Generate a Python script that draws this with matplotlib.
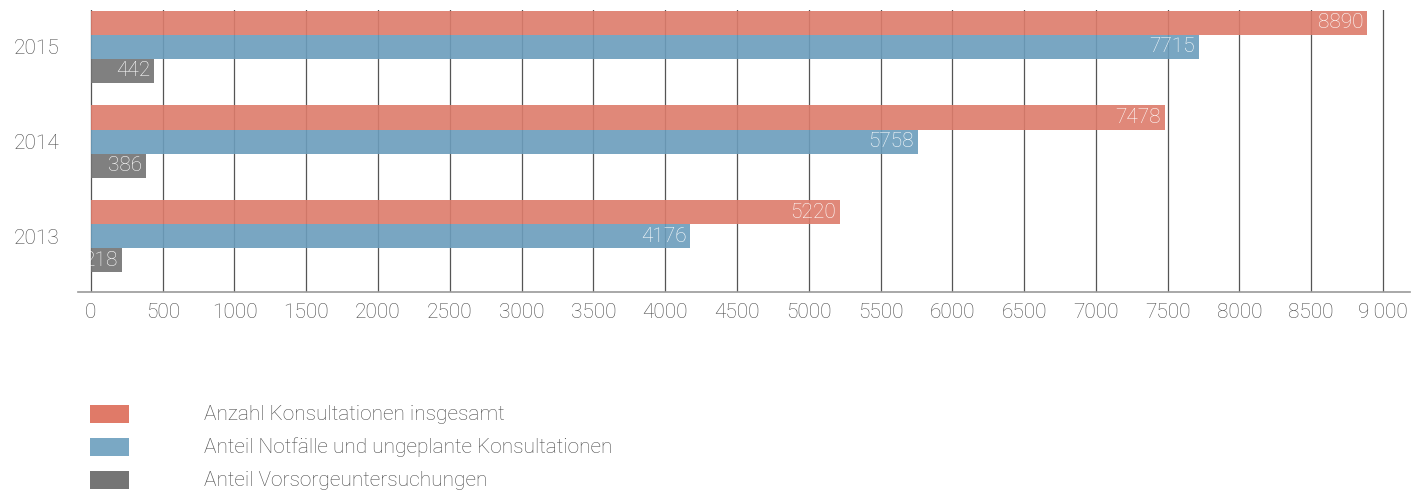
import matplotlib
matplotlib.use("Agg")
import matplotlib.pyplot as plt
from matplotlib.patches import Rectangle
import numpy as np

years = ["2013", "2014", "2015"]
total = [5220, 7478, 8890]
emergency = [4176, 5758, 7715]
preventive = [218, 386, 442]
series_labels = ["Anzahl Konsultationen insgesamt",
                 "Anteil Notfälle und ungeplante Konsultationen",
                 "Anteil Vorsorgeuntersuchungen"]
xticks = list(range(0, 9001, 500))
xticklabels = [str(v) for v in xticks[:-1]] + ["9\u2009000"]

bar_colors = ["#DD7B6B", "#6B9DBC", "#727272"]
legend_colors = ["#E07A68", "#7AA8C4", "#757575"]

plt.rcParams['font.family'] = ['Roboto', 'DejaVu Sans']
txtcol = "#4a4a4a"
FS = 15

W, H = 1413, 490
fig = plt.figure(figsize=(W/100, H/100), dpi=100)
ax = fig.add_axes([78/W, (H-292)/H, 1332/W, 282/H])

y = np.arange(len(years))
bh = 0.254
offs = [bh, 0, -bh]
for vals, c, o in zip([total, emergency, preventive], bar_colors, offs):
    bars = ax.barh(y + o, vals, height=bh, color=c, alpha=0.9, zorder=2, linewidth=0)
    for b, v in zip(bars, vals):
        ax.text(b.get_width() - 28, b.get_y() + b.get_height()/2, str(v),
                ha='right', va='center', color='white', fontsize=FS,
                fontweight='light', zorder=3)

ax.set_xlim(-90, 9188)
ax.set_ylim(-0.59, 2.39)
for xv in xticks:
    ax.axvline(xv, color="#555555", lw=0.9, zorder=1)
ax.set_xticks(xticks)
ax.set_xticklabels(xticklabels, fontsize=FS, color=txtcol, fontweight='light')
ax.set_yticks(y)
ax.set_yticklabels(years, fontsize=FS, color=txtcol, fontweight='light')
ax.tick_params(axis='both', length=0)
ax.tick_params(axis='x', pad=8)
ax.tick_params(axis='y', pad=13)
for s in ['top', 'left', 'right']:
    ax.spines[s].set_visible(False)
ax.spines['bottom'].set_color("#999999")
ax.spines['bottom'].set_linewidth(1.2)

# legend
for i, (lab, c) in enumerate(zip(series_labels, legend_colors)):
    yc = 414 + 33 * i
    fig.add_artist(Rectangle((90/W, (H - yc - 9)/H), 39/W, 18/H,
                             transform=fig.transFigure, color=c, lw=0))
    fig.text(204/W, (H - yc)/H, lab, ha='left', va='center', fontsize=FS,
             color=txtcol, fontweight='light')

fig.savefig("out.png", dpi=100)
